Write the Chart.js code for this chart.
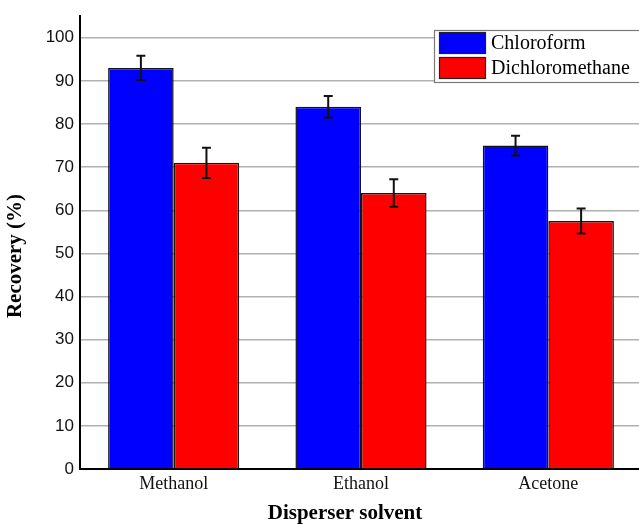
<!DOCTYPE html>
<html>
<head>
<meta charset="utf-8">
<script src="https://cdn.jsdelivr.net/npm/chart.js@4/dist/chart.umd.min.js"></script>
<style>
  html, body { margin: 0; padding: 0; background: #fff; overflow: hidden; }
  #wrap { width: 642px; height: 524px; }
</style>
</head>
<body>
<div id="wrap"><canvas id="recoveryChart" width="642" height="524"></canvas></div>
<script>
"use strict";
// solvents on the x axis
const solvents = ["Methanol", "Ethanol", "Acetone"];
const seriesNames = ["Chloroform", "Dichloromethane"];
// recovery (%)
const chloroform = [93.0, 84.0, 75.0];
const dichloromethane = [71.0, 64.0, 57.5];
// +/- error bar half heights
const chloroformErr = [2.8, 2.5, 2.3];
const dichloromethaneErr = [3.5, 3.2, 2.9];
const yTicks = [0, 10, 20, 30, 40, 50, 60, 70, 80, 90, 100];

const serif = "'Liberation Serif', 'Times New Roman', serif";
const sans = "'Liberation Sans', Arial, sans-serif";

// draws the +/- bars on top of each bar
const errorBars = {
    id: 'errorBars',
    afterDatasetsDraw(chart) {
        const ctx = chart.ctx;
        const yScale = chart.scales.y;
        ctx.save();
        ctx.strokeStyle = '#111';
        ctx.lineWidth = 2;
        chart.data.datasets.forEach((ds, di) => {
            const meta = chart.getDatasetMeta(di);
            meta.data.forEach((bar, i) => {
                const v = ds.data[i], e = ds.errors[i];
                const yTop = yScale.getPixelForValue(v + e);
                const yBot = yScale.getPixelForValue(v - e);
                const x = bar.x;
                ctx.beginPath();
                ctx.moveTo(x, yTop); ctx.lineTo(x, yBot);
                ctx.moveTo(x - 4.5, yTop); ctx.lineTo(x + 4.5, yTop);
                ctx.moveTo(x - 4.5, yBot); ctx.lineTo(x + 4.5, yBot);
                ctx.stroke();
            });
        });
        ctx.restore();
    }
};

// boxed legend in the top right corner plus the two axis titles
const boxLegend = {
    id: 'boxLegend',
    afterDraw(chart) {
        const ctx = chart.ctx;
        ctx.save();
        ctx.fillStyle = '#fff';
        ctx.fillRect(434, 30, 220, 52);
        ctx.strokeStyle = '#7a7a7a';
        ctx.lineWidth = 1.2;
        ctx.strokeRect(434.5, 30.5, 220, 52);
        chart.data.datasets.forEach((ds, i) => {
            const y = 32 + i * 25;
            ctx.fillStyle = ds.backgroundColor;
            ctx.fillRect(439, y, 47, 22);
            ctx.strokeStyle = '#222';
            ctx.lineWidth = 1.2;
            ctx.strokeRect(439.5, y + 0.5, 46, 21);
            ctx.fillStyle = '#000';
            ctx.font = "20px " + serif;
            ctx.textBaseline = 'middle';
            ctx.textAlign = 'left';
            ctx.fillText(ds.label, 491, y + 12);
        });

        ctx.fillStyle = '#000';
        ctx.font = "bold 21px " + serif;
        ctx.textAlign = 'center';
        ctx.textBaseline = 'middle';
        ctx.fillText("Disperser solvent", 345, 514);
        ctx.translate(16, 256);
        ctx.rotate(-Math.PI / 2);
        ctx.fillText("Recovery (%)", 0, 0);
        ctx.restore();
    }
};

const canvas = document.getElementById('recoveryChart');
const recoveryChart = new Chart(canvas, {
    type: 'bar',
    data: {
        labels: solvents,
        datasets: [{
            label: seriesNames[0],
            data: chloroform,
            errors: chloroformErr,
            backgroundColor: '#0000ff',
            borderColor: '#151515',
            borderWidth: 1.5,
            barPercentage: 1,
            categoryPercentage: 0.7
        }, {
            label: seriesNames[1],
            data: dichloromethane,
            errors: dichloromethaneErr,
            backgroundColor: '#ff0000',
            borderColor: '#151515',
            borderWidth: 1.5,
            barPercentage: 1,
            categoryPercentage: 0.7
        }]
    },
    options: {
        responsive: false,
        animation: false,
        devicePixelRatio: 1,
        layout: { padding: { top: 13, left: 0, right: 0, bottom: 0 } },
        plugins: {
            legend: { display: false },
            tooltip: { enabled: false }
        },
        scales: {
            x: {
                grid: { display: false, drawTicks: false },
                border: { display: true, color: '#000', width: 2 },
                ticks: {
                    color: '#111',
                    padding: 4,
                    font: { family: serif, size: 18 }
                },
                afterFit(scale) { scale.height = 55; }
            },
            y: {
                min: 0,
                max: 105,
                grid: { color: 'rgba(150,150,150,0.75)', lineWidth: 1.5, drawTicks: false },
                border: { display: true, color: '#000', width: 2 },
                ticks: {
                    stepSize: 10,
                    color: '#111',
                    padding: 6,
                    font: { family: sans, size: 17 }
                },
                afterBuildTicks(scale) {
                    scale.ticks = yTicks.map(v => ({ value: v }));
                },
                afterFit(scale) { scale.width = 80; }
            }
        }
    },
    plugins: [errorBars, boxLegend]
});
</script>
</body>
</html>
